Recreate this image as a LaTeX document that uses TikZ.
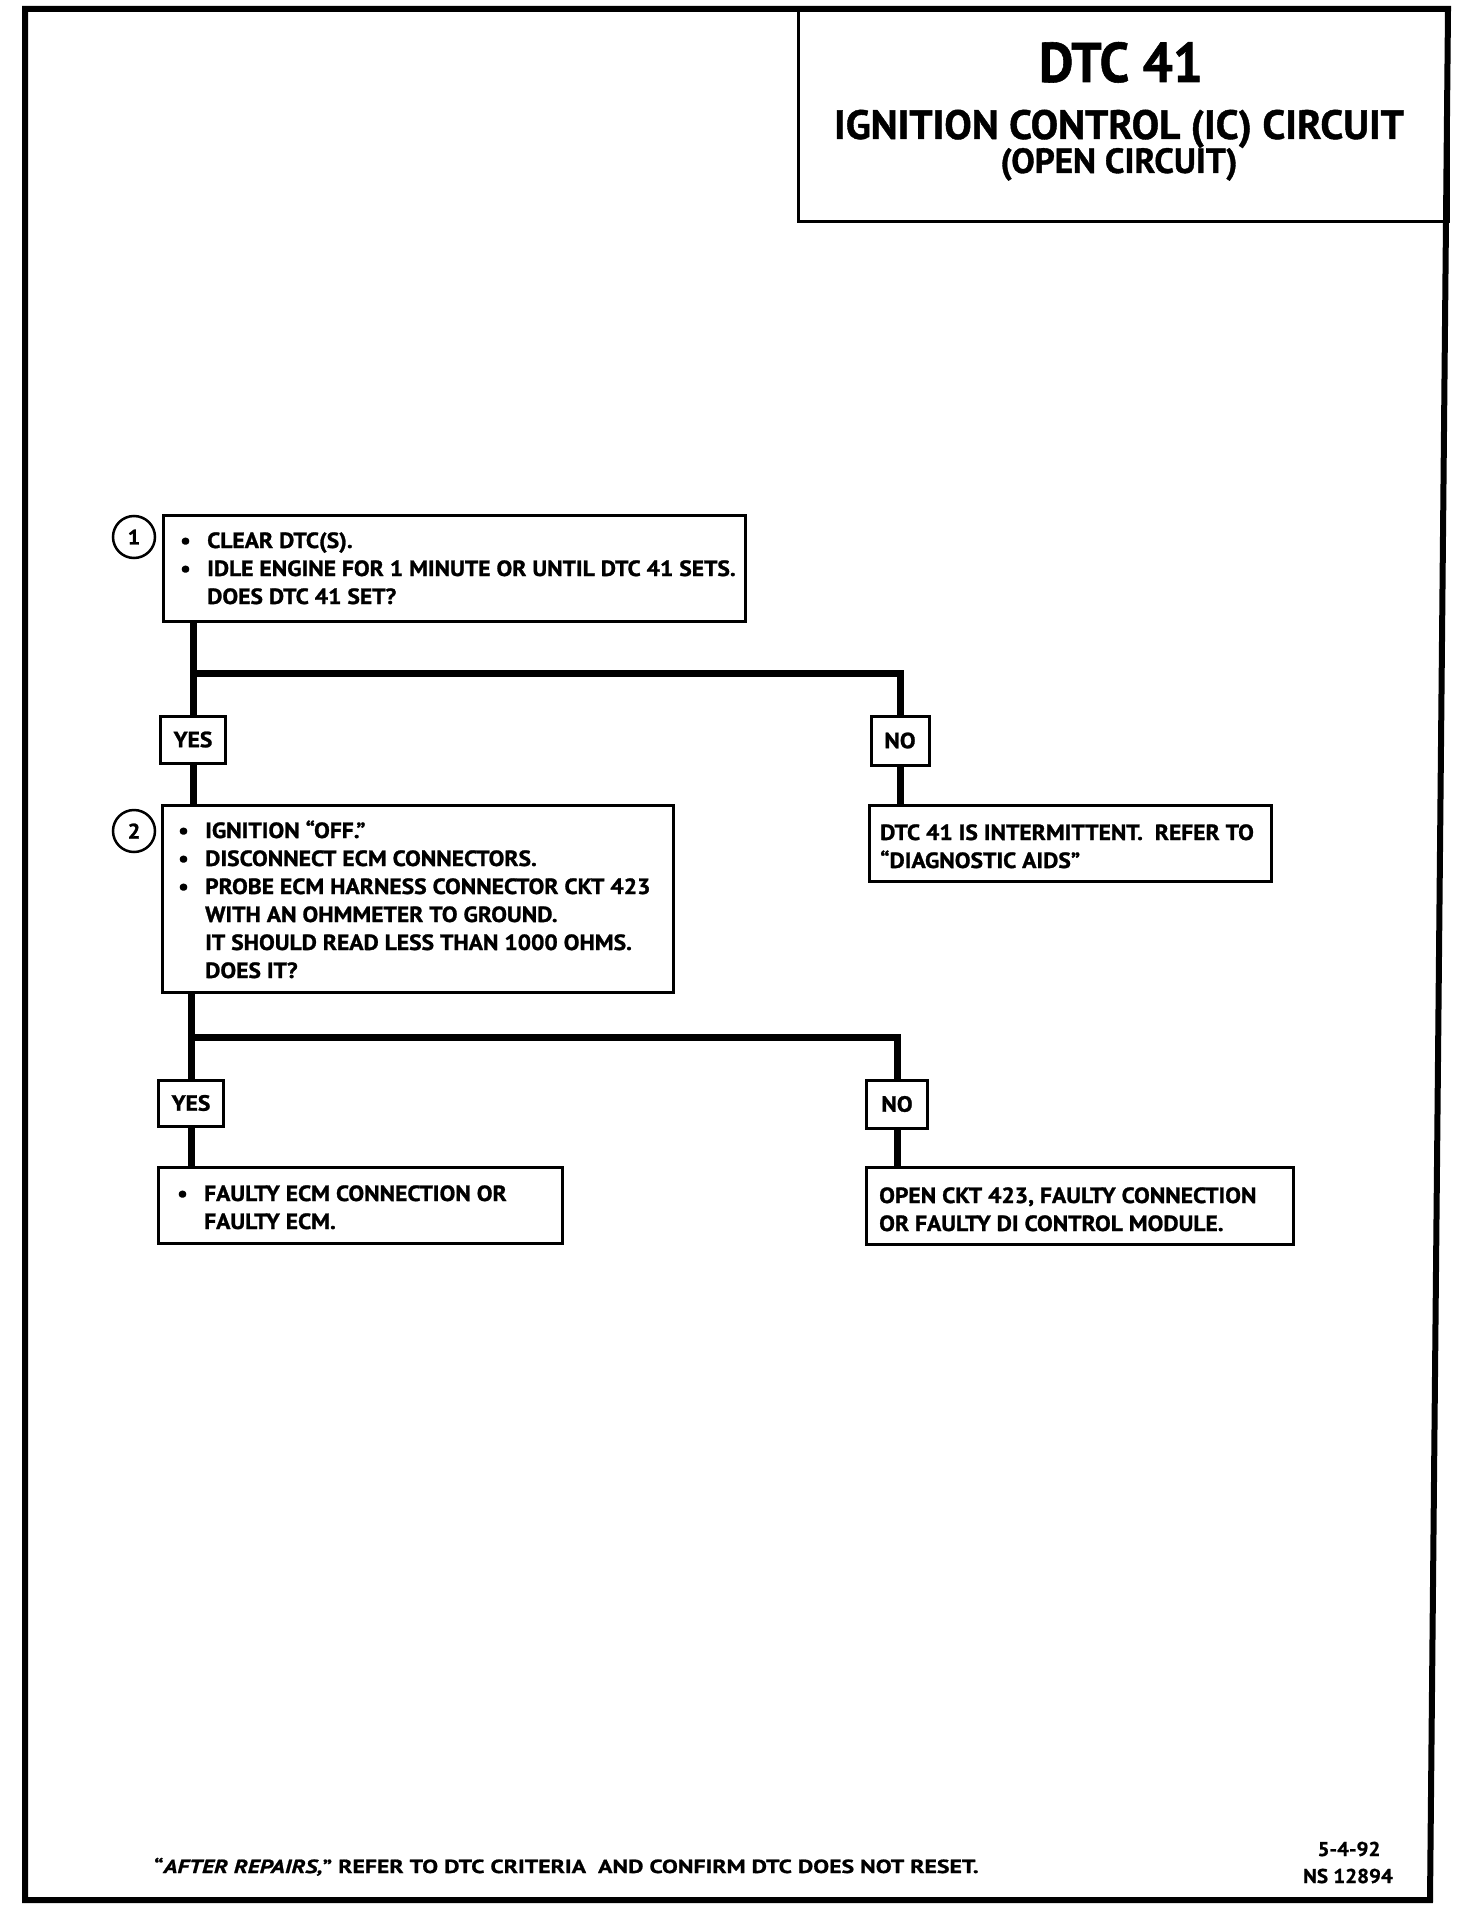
\documentclass[tikz,border=0pt]{standalone}
\usepackage{fontspec}
\setmainfont{PT Sans}
\newfontfamily\bodyf{PT Sans}[FakeStretch=1.07, FakeBold=1.2]
\newfontfamily\titlef{PT Sans}[FakeStretch=1.0, FakeBold=1.0]
\newfontfamily\dtcf{PT Sans}[FakeStretch=0.95, FakeBold=1.0]
\newfontfamily\footf{PT Sans}[FakeStretch=1.25, FakeBold=1.0]
\newfontfamily\codef{PT Sans}[FakeStretch=1.05, FakeBold=1.0]
\newcommand{\bul}{\makebox[27pt][l]{\textbullet}}
\newcommand{\ind}{\hspace*{27pt}}
\tikzset{
  frame/.style={draw, line width=6pt, line join=miter},
  box/.style={draw, line width=3pt, rectangle, inner sep=0pt},
  ansbox/.style={draw, line width=3pt, rectangle, inner sep=0pt, fill=white,
     font=\bodyf\bfseries\fontsize{22}{24}\selectfont},
  conn/.style={line width=7pt, line join=miter},
  txt/.style={inner sep=0pt, anchor=base west, align=left},
  num/.style={draw, circle, line width=2.5pt, minimum size=42pt, inner sep=0pt,
     font=\bodyf\bfseries\fontsize{21}{24}\selectfont}
}
\newcommand{\bodytext}[2]{\parbox[t]{#1}{\raggedright\bodyf\bfseries\fontsize{22}{28}\selectfont #2}}
\begin{document}
\begin{tikzpicture}[x=1pt,y=-1pt]
\useasboundingbox (0,0) rectangle (1472,1910);
\fill[white] (0,0) rectangle (1472,1910);

% title block
\node[box, minimum width=650pt, minimum height=213pt] (title) at (1123,115.5) {};
\node[inner sep=0pt, anchor=base, font=\dtcf\bfseries\fontsize{56}{60}\selectfont] (tl1) at (1121,82) {DTC 41};
\node[inner sep=0pt, anchor=base, font=\titlef\bfseries\fontsize{41}{44}\selectfont] (tl2) at (1119,139) {IGNITION CONTROL (IC) CIRCUIT};
\node[inner sep=0pt, anchor=base, font=\titlef\bfseries\fontsize{35}{38}\selectfont] (tl3) at (1119,173) {(OPEN CIRCUIT)};

% outer frame
\draw[frame] (25,9) -- (1448,9) -- (1430,1900) -- (25,1900) -- cycle;

% boxes
\node[box, minimum width=582pt, minimum height=106pt] (b1) at (454,568) {};
\node[box, minimum width=511pt, minimum height=187pt] (b2) at (417.5,898.5) {};
\node[box, minimum width=402pt, minimum height=76pt] (b3) at (1070,843) {};
\node[box, minimum width=404pt, minimum height=76pt] (b4) at (360,1205) {};
\node[box, minimum width=427pt, minimum height=77pt] (b5) at (1079.5,1205.5) {};

\node[num] (c1) at (134,537) {1};
\node[num] (c2) at (134,831) {2};

% connector junctions
\coordinate (j1) at (193,673);
\coordinate (j2) at (191,1037);

\node[ansbox, minimum width=65pt, minimum height=47pt] (yes1) at (193,739.5) {YES};
\node[ansbox, minimum width=58pt, minimum height=49pt] (no1) at (900,740.5) {NO};
\node[ansbox, minimum width=65pt, minimum height=46pt] (yes2) at (191,1103) {YES};
\node[ansbox, minimum width=61pt, minimum height=48pt] (no2) at (897,1104) {NO};

\draw[conn] (yes1.north |- b1.south) -- (yes1.north);
\draw[conn] (j1) -| (no1.north);
\draw[conn] (yes1.south) -- (yes1.south |- b2.north);
\draw[conn] (no1.south) -- (no1.south |- b3.north);
\draw[conn] (yes2.north |- b2.south) -- (yes2.north);
\draw[conn] (j2) -| (no2.north);
\draw[conn] (yes2.south) -- (yes2.south |- b4.north);
\draw[conn] (no2.south) -- (no2.south |- b5.north);

% texts
\node[txt] (t1) at (180,548) {\bodytext{560pt}{\bul CLEAR DTC(S).\\ \bul IDLE ENGINE FOR 1 MINUTE OR UNTIL DTC 41 SETS.\\ \ind DOES DTC 41 SET?}};
\node[txt] (t2) at (178,838) {\bodytext{490pt}{\bul IGNITION “OFF.”\\ \bul DISCONNECT ECM CONNECTORS.\\ \bul PROBE ECM HARNESS CONNECTOR CKT 423\\ \ind WITH AN OHMMETER TO GROUND.\\ \ind IT SHOULD READ LESS THAN 1000 OHMS.\\ \ind DOES IT?}};
\node[txt] (t3) at (880,840) {\bodytext{390pt}{DTC 41 IS INTERMITTENT.\ \ REFER TO\\ “DIAGNOSTIC AIDS”}};
\node[txt] (t4) at (177,1201) {\bodytext{390pt}{\bul FAULTY ECM CONNECTION OR\\ \ind FAULTY ECM.}};
\node[txt] (t5) at (879,1203) {\bodytext{420pt}{OPEN CKT 423, FAULTY CONNECTION\\ OR FAULTY DI CONTROL MODULE.}};

% footer
\node[txt, font=\footf\bfseries\fontsize{19}{22}\selectfont] (foot) at (154,1873) {“\textit{AFTER REPAIRS,}” REFER TO DTC CRITERIA\ \ AND CONFIRM DTC DOES NOT RESET.};
\node[inner sep=0pt, anchor=base, font=\codef\bfseries\fontsize{20}{22}\selectfont] (date) at (1349,1856) {5-4-92};
\node[inner sep=0pt, anchor=base, font=\codef\bfseries\fontsize{20}{22}\selectfont] (ns) at (1348,1883) {NS 12894};
\end{tikzpicture}
\end{document}
